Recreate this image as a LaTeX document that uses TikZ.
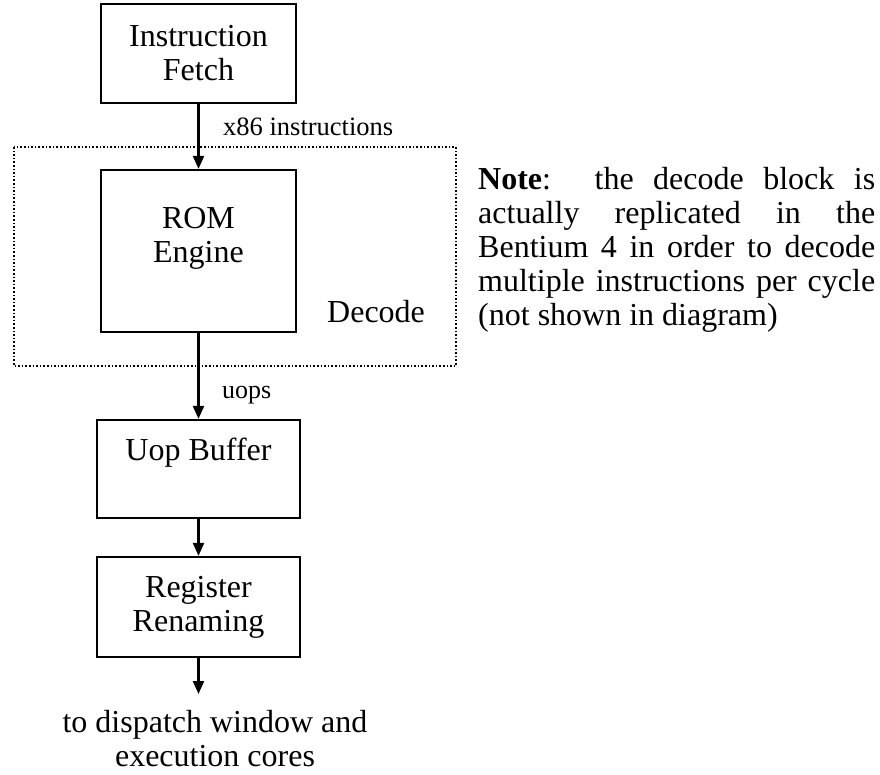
\documentclass[tikz,border=0pt]{standalone}
\usepackage{fontspec}
\setmainfont{Liberation Serif}
\usetikzlibrary{arrows.meta}
\begin{document}
\begin{tikzpicture}[x=1pt,y=-1pt,
  blk/.style={draw,line width=2.2pt,inner sep=0pt,align=center,font=\fontsize{32}{34}\selectfont},
  txt/.style={inner sep=0pt,align=center,font=\fontsize{32}{34}\selectfont},
  lbl/.style={inner sep=0pt,anchor=base west,font=\fontsize{26.5}{28}\selectfont},
  arr/.style={line width=2.2pt,-{Triangle[length=13pt,width=11pt]}},
  grp/.style={draw,line width=1.5pt,dash pattern=on 1.6pt off 2pt}]
\useasboundingbox[fill=white] (0,0) rectangle (880,775);
% dotted decode group
\draw[grp] (14,147) rectangle (456,366);
\node[txt,anchor=base west] (dec) at (327,323) {Decode};
% blocks
\node[blk,minimum width=195pt,minimum height=99pt] (fetch) at (198.5,53.5) {Instruction\\Fetch};
\node[blk,minimum width=195pt,minimum height=162pt] (rom) at (198.5,251) {};
\node[txt,anchor=base] (romt) at (198.5,263) {ROM\\Engine};
\node[blk,minimum width=203pt,minimum height=98pt] (uop) at (198.5,469) {};
\node[txt,anchor=base] (uopt) at (198.5,460) {Uop Buffer};
\node[blk,minimum width=203pt,minimum height=100pt] (reg) at (198.5,607) {Register\\Renaming};
\coordinate (out) at (198.5,694);
% connectors
\draw[arr] (fetch.south) -- (rom.north);
\draw[arr] (rom.south) -- (uop.north);
\draw[arr] (uop.south) -- (reg.north);
\draw[arr] (reg.south) -- (out);
% labels
\node[lbl] (x86) at (223,136) {x86 instructions};
\node[lbl,font=\fontsize{26}{28}\selectfont] (uops) at (222,398) {uops};
\node[txt,anchor=base] (dest) at (215,766) {to dispatch window and\\execution cores};
% note
\node[inner sep=0pt,anchor=base west,align=left,font=\fontsize{32}{34}\selectfont] (note) at (478,326)
 {\makebox[397pt][s]{\textbf{Note}:\hspace{10pt} the decode block is}\\
  \makebox[397pt][s]{actually replicated in the}\\
  \makebox[397pt][s]{Bentium 4 in order to decode}\\
  \makebox[397pt][s]{multiple instructions per cycle}\\
  (not shown in diagram)};
\end{tikzpicture}
\end{document}
